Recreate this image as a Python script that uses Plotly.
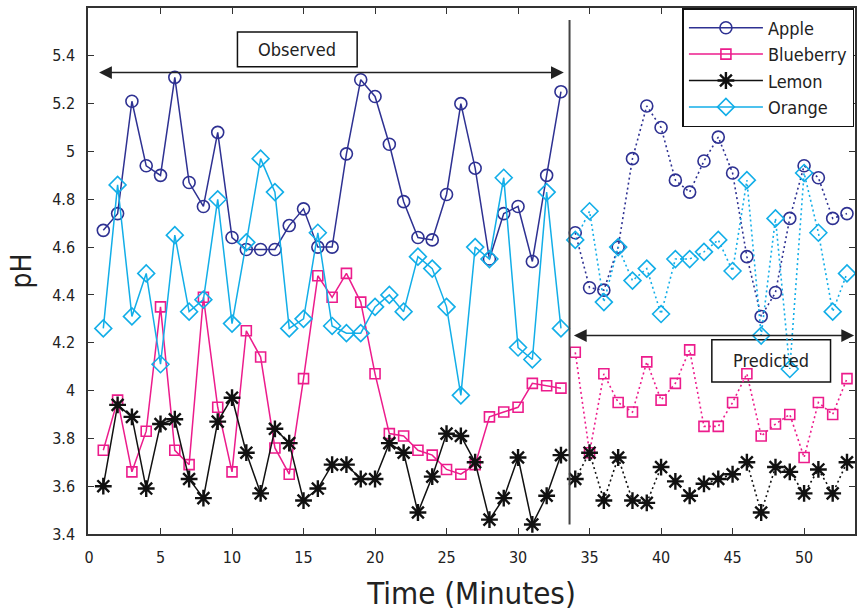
import plotly.graph_objects as go

# Time axis (minutes)
t_obs = list(range(1, 34))
t_pred = list(range(34, 54))

# Observed pH readings
apple_obs = [4.67, 4.74, 5.21, 4.94, 4.90, 5.31, 4.87, 4.77, 5.08, 4.64, 4.59, 4.59, 4.59,
             4.69, 4.76, 4.60, 4.60, 4.99, 5.30, 5.23, 5.03, 4.79, 4.64, 4.63, 4.82, 5.20,
             4.93, 4.55, 4.74, 4.77, 4.54, 4.90, 5.25]
blueberry_obs = [3.75, 3.96, 3.66, 3.83, 4.35, 3.75, 3.69, 4.39, 3.93, 3.66, 4.25, 4.14, 3.76,
                 3.65, 4.05, 4.48, 4.39, 4.49, 4.37, 4.07, 3.82, 3.81, 3.75, 3.73, 3.67, 3.65,
                 3.69, 3.89, 3.91, 3.93, 4.03, 4.02, 4.01]
lemon_obs = [3.60, 3.94, 3.89, 3.59, 3.86, 3.88, 3.63, 3.55, 3.87, 3.97, 3.74, 3.57, 3.84,
             3.78, 3.54, 3.59, 3.69, 3.69, 3.63, 3.63, 3.78, 3.74, 3.49, 3.64, 3.82, 3.81,
             3.70, 3.46, 3.55, 3.72, 3.44, 3.56, 3.73]
orange_obs = [4.26, 4.86, 4.31, 4.49, 4.11, 4.65, 4.33, 4.38, 4.80, 4.28, 4.62, 4.97, 4.83,
              4.26, 4.30, 4.66, 4.27, 4.24, 4.24, 4.35, 4.40, 4.33, 4.56, 4.51, 4.35, 3.98,
              4.60, 4.55, 4.89, 4.18, 4.13, 4.83, 4.26]

# Predicted pH values
apple_pred = [4.66, 4.43, 4.42, 4.60, 4.97, 5.19, 5.10, 4.88, 4.83, 4.96, 5.06, 4.91, 4.56,
              4.31, 4.41, 4.72, 4.94, 4.89, 4.72, 4.74]
blueberry_pred = [4.16, 3.74, 4.07, 3.95, 3.91, 4.12, 3.96, 4.03, 4.17, 3.85, 3.85, 3.95, 4.07,
                  3.81, 3.86, 3.90, 3.72, 3.95, 3.90, 4.05]
lemon_pred = [3.63, 3.74, 3.54, 3.72, 3.54, 3.53, 3.68, 3.62, 3.56, 3.61, 3.63, 3.65, 3.70,
              3.49, 3.68, 3.66, 3.57, 3.67, 3.57, 3.70]
orange_pred = [4.63, 4.75, 4.37, 4.60, 4.46, 4.51, 4.32, 4.55, 4.55, 4.58, 4.63, 4.50, 4.88,
               4.23, 4.72, 4.09, 4.91, 4.66, 4.33, 4.49]

y_ticks = [3.4, 3.6, 3.8, 4.0, 4.2, 4.4, 4.6, 4.8, 5.0, 5.2, 5.4]
y_tick_text = ["3.4", "3.6", "3.8", "4", "4.2", "4.4", "4.6", "4.8", "5", "5.2", "5.4"]
x_ticks = [0, 5, 10, 15, 20, 25, 30, 35, 40, 45, 50]

FONT = "Liberation Sans Narrow, DejaVu Sans Condensed, Roboto, sans-serif"
TEXT = "#222222"

series = [
    ("Apple", apple_obs, apple_pred, "#2e3192", "circle-open", 12, 1.6),
    ("Blueberry", blueberry_obs, blueberry_pred, "#ec1c8c", "square-open", 10, 1.6),
    ("Lemon", lemon_obs, lemon_pred, "#111111", "asterisk-open", 14, 2.4),
    ("Orange", orange_obs, orange_pred, "#12aee8", "diamond-open", 13, 1.6),
]

fig = go.Figure()
for name, obs, pred, color, sym, size, mlw in series:
    mk = dict(symbol=sym, size=size, color=color, line=dict(color=color, width=mlw))
    fig.add_trace(go.Scatter(x=t_obs, y=obs, mode="lines+markers", name=name,
                             line=dict(color=color, width=1.5), marker=mk))
    fig.add_trace(go.Scatter(x=t_pred, y=pred, mode="lines+markers", name=name,
                             showlegend=False,
                             line=dict(color=color, width=1.6, dash="2px,3px"), marker=mk))

# Divider between observed and predicted sections
fig.add_shape(type="line", x0=33.6, x1=33.6, y0=3.44, y1=5.55,
              line=dict(color="#444444", width=2))

# Double-headed span arrows
def span_arrow(x0, x1, y):
    fig.add_annotation(x=x1, y=y, ax=x0, ay=y, xref="x", yref="y", axref="x", ayref="y",
                       text="", showarrow=True, arrowhead=2, startarrowhead=2,
                       arrowside="end+start", arrowsize=1.6, startarrowsize=1.6,
                       arrowwidth=1.6, arrowcolor="#222222")

span_arrow(0.6, 33.2, 5.33)
span_arrow(33.8, 53.5, 4.23)

# Labelled boxes
fig.add_shape(type="rect", x0=10.38, x1=18.75, y0=5.354, y1=5.50,
              line=dict(color="#111111", width=1.5), fillcolor="white")
fig.add_annotation(x=14.56, y=5.427, text="Observed", showarrow=False,
                   font=dict(family=FONT, size=18, color=TEXT))
fig.add_shape(type="rect", x0=43.55, x1=51.85, y0=4.036, y1=4.212, layer="below",
              line=dict(color="#111111", width=1.5))
fig.add_annotation(x=47.67, y=4.124, text="Predicted", showarrow=False,
                   font=dict(family=FONT, size=18, color=TEXT))

axis_common = dict(showline=True, linecolor="#333333", linewidth=1.5, mirror="ticks",
                   ticks="inside", ticklen=6, tickcolor="#333333", showgrid=False,
                   zeroline=False, tickfont=dict(family=FONT, size=16, color=TEXT))

fig.update_xaxes(range=[-0.07, 53.56], tickvals=x_ticks, ticklabelstandoff=8,
                 title=dict(text="Time (Minutes)", font=dict(family=FONT, size=31, color=TEXT),
                            standoff=16),
                 **axis_common)
fig.update_yaxes(range=[3.4, 5.6], tickvals=y_ticks, ticktext=y_tick_text, ticklabelstandoff=8,
                 title=dict(text="pH", font=dict(family=FONT, size=28, color=TEXT),
                            standoff=12),
                 **axis_common)

fig.update_layout(
    width=857, height=615,
    margin=dict(l=88, r=0, t=8, b=81),
    paper_bgcolor="white", plot_bgcolor="white",
    font=dict(family=FONT),
    legend=dict(x=0.775, y=1.0, xanchor="left", yanchor="top",
                bgcolor="white", bordercolor="#111111", borderwidth=1.5,
                font=dict(family=FONT, size=18, color=TEXT),
                itemwidth=74, tracegroupgap=2),
)

fig.write_html("out.html")
